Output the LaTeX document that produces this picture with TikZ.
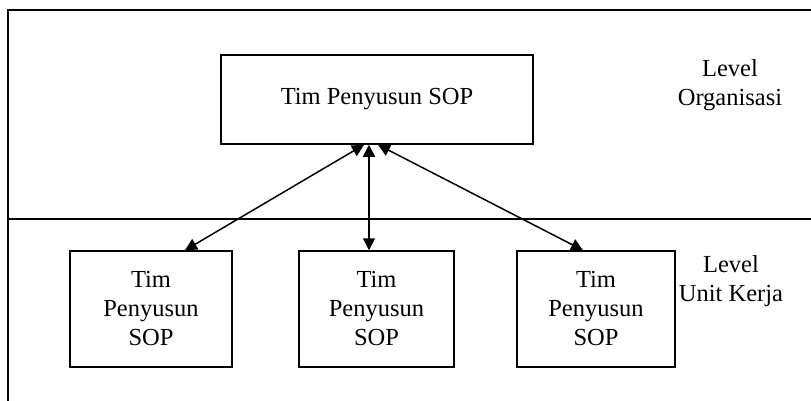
\documentclass[tikz,border=0pt]{standalone}
\usepackage{fontspec}
\setmainfont{Liberation Serif}
\usetikzlibrary{arrows.meta}
\begin{document}
\begin{tikzpicture}[x=1pt,y=-1pt,
  every path/.style={line width=1.5pt},
  box/.style={draw, line width=1.5pt, align=center, inner sep=0pt,
    font=\fontsize{24.5}{29}\selectfont},
  lbl/.style={align=center, inner sep=0pt, font=\fontsize{24.5}{29}\selectfont},
  link/.style={line width=1.5pt, {Triangle[length=12pt,width=12pt]}-{Triangle[length=12pt,width=12pt]}}]
\useasboundingbox (0,0) rectangle (811,401);
\coordinate (fA) at (8,401);
\coordinate (fB) at (8,10);
\coordinate (fC) at (811,10);
\coordinate (dA) at (8,219);
\coordinate (dB) at (811,219);
\draw (fA) -- (fB) -- (fC);
\draw (dA) -- (dB);
\node[box, minimum width=312pt, minimum height=89pt] (top) at (377,99.5) {Tim Penyusun SOP};
\node[box, minimum width=162pt, minimum height=116pt] (b1) at (151,309) {Tim\\Penyusun\\SOP};
\node[box, minimum width=155pt, minimum height=116pt] (b2) at (376.5,309) {Tim\\Penyusun\\SOP};
\node[box, minimum width=158pt, minimum height=116pt] (b3) at (596,309) {Tim\\Penyusun\\SOP};
\node[lbl] (l1) at (730,85) {Level\\Organisasi};
\node[lbl] (l2) at (731,281) {Level\\Unit Kerja};
\draw[link] ([xshift=-13pt]top.south) -- ([xshift=34pt]b1.north);
\draw[link] ([xshift=-8pt]top.south) -- ([xshift=-7.5pt]b2.north);
\draw[link] ([xshift=1pt]top.south) -- ([xshift=-13pt]b3.north);
\end{tikzpicture}
\end{document}
